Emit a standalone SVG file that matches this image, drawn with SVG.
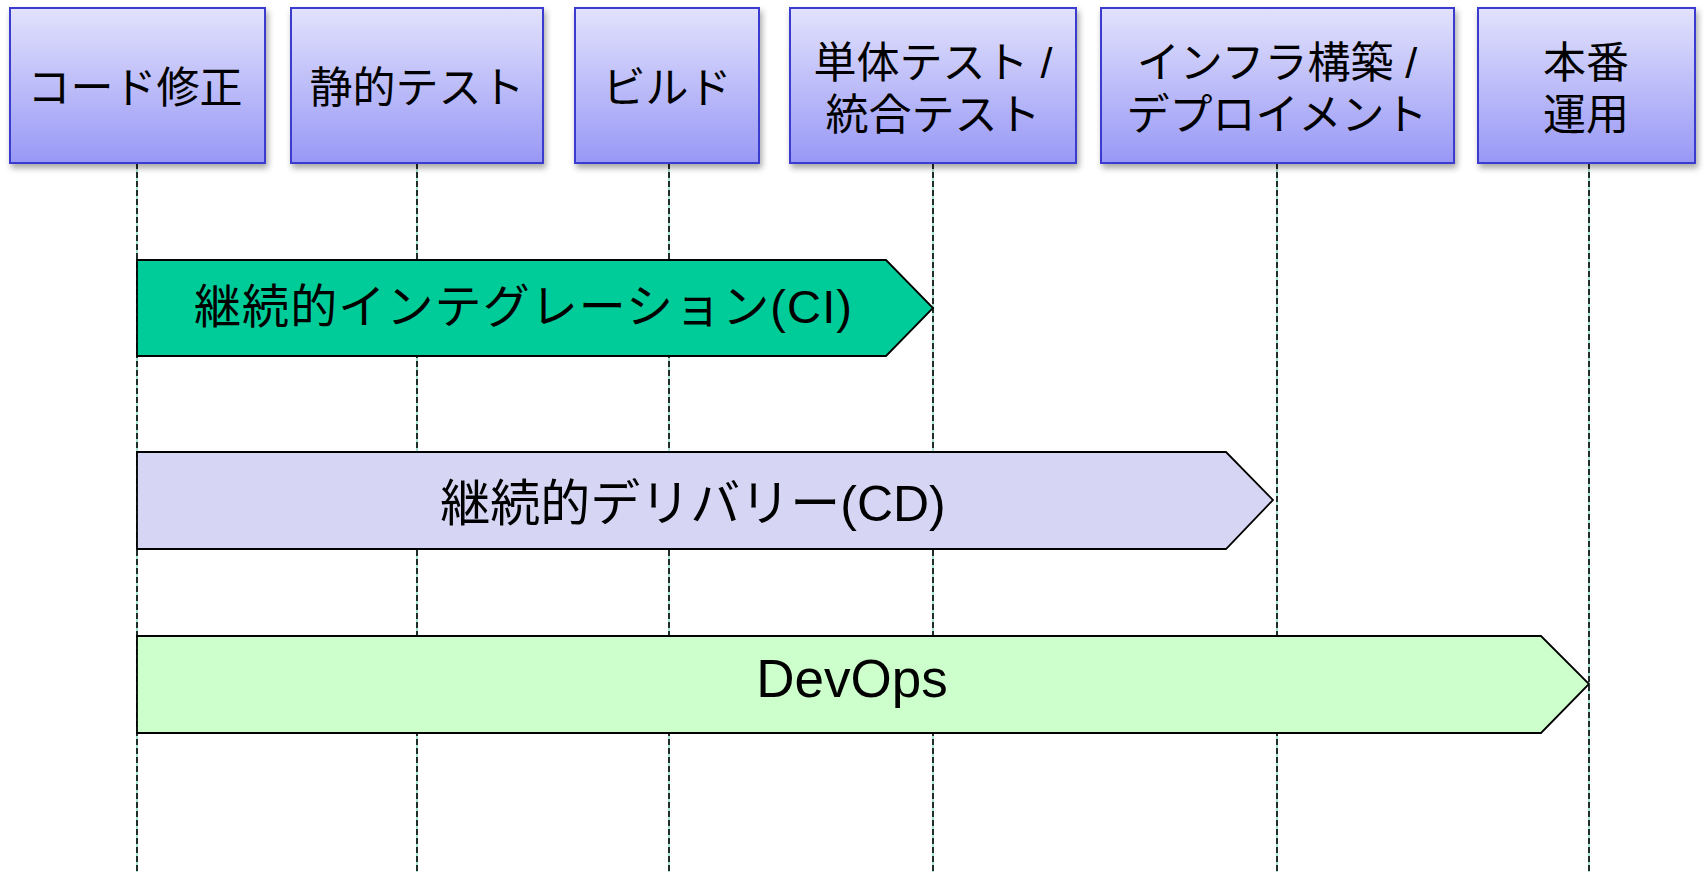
<svg xmlns="http://www.w3.org/2000/svg" width="1704" height="872" viewBox="0 0 1704 872">
<defs>
<linearGradient id="hdr" x1="0" y1="0" x2="0" y2="1">
<stop offset="0" stop-color="#e2e2fc"/>
<stop offset="1" stop-color="#9898f6"/>
</linearGradient>
<filter id="sh" x="-10%" y="-10%" width="125%" height="130%">
<feDropShadow dx="2" dy="4" stdDeviation="3" flood-color="#000" flood-opacity="0.35"/>
</filter>
</defs>
<style>
.box{fill:url(#hdr);stroke:#3a3ad0;stroke-width:2;filter:url(#sh)}
.ht{font-family:"Liberation Sans","Noto Sans CJK JP",sans-serif;font-size:43px;fill:#000;text-anchor:middle}
.at{font-family:"Liberation Sans","Noto Sans CJK JP",sans-serif;fill:#000;text-anchor:middle}
.ll{stroke:#8fdcc8;stroke-width:1.6}
.lld{stroke:#000;stroke-width:1.6;stroke-dasharray:6 3}
.arr{stroke:#000;stroke-width:1.8;stroke-linejoin:miter}
</style>
<rect width="1704" height="872" fill="#fff"/>
<g id="connectors">
<line class="ll" x1="137" y1="163" x2="137" y2="872"/><line class="lld" x1="137" y1="163" x2="137" y2="872"/>
<line class="ll" x1="417" y1="163" x2="417" y2="872"/><line class="lld" x1="417" y1="163" x2="417" y2="872"/>
<line class="ll" x1="669" y1="163" x2="669" y2="872"/><line class="lld" x1="669" y1="163" x2="669" y2="872"/>
<line class="ll" x1="933" y1="163" x2="933" y2="872"/><line class="lld" x1="933" y1="163" x2="933" y2="872"/>
<line class="ll" x1="1277" y1="163" x2="1277" y2="872"/><line class="lld" x1="1277" y1="163" x2="1277" y2="872"/>
<line class="ll" x1="1589" y1="163" x2="1589" y2="872"/><line class="lld" x1="1589" y1="163" x2="1589" y2="872"/>
</g>
<g id="n1"><rect class="box" x="10" y="8" width="255" height="155"/><text class="ht" x="135" y="103">コード修正</text></g>
<g id="n2"><rect class="box" x="291" y="8" width="252" height="155"/><text class="ht" x="417" y="103">静的テスト</text></g>
<g id="n3"><rect class="box" x="575" y="8" width="184" height="155"/><text class="ht" x="667" y="103">ビルド</text></g>
<g id="n4"><rect class="box" x="790" y="8" width="286" height="155"/><text class="ht" x="933" y="78">単体テスト /</text><text class="ht" x="933" y="130">統合テスト</text></g>
<g id="n5"><rect class="box" x="1101" y="8" width="353" height="155"/><text class="ht" x="1277" y="78">インフラ構築 /</text><text class="ht" x="1277" y="130">デプロイメント</text></g>
<g id="n6"><rect class="box" x="1478" y="8" width="217" height="155"/><text class="ht" x="1586" y="78">本番</text><text class="ht" x="1586" y="130">運用</text></g>
<g id="ci"><polygon class="arr" fill="#00cc99" points="137,260 886,260 933,308 886,356 137,356"/><text class="at" x="523" y="323" font-size="47" textLength="658" lengthAdjust="spacing">継続的インテグレーション(CI)</text></g>
<g id="cd"><polygon class="arr" fill="#d6d6f4" points="137,452 1226,452 1273,500 1226,549 137,549"/><text class="at" x="693" y="521" font-size="50">継続的デリバリー(CD)</text></g>
<g id="devops"><polygon class="arr" fill="#ccffcc" points="137,636 1541,636 1589,684 1541,733 137,733"/><text class="at" x="852" y="697" font-size="53">DevOps</text></g>
</svg>
